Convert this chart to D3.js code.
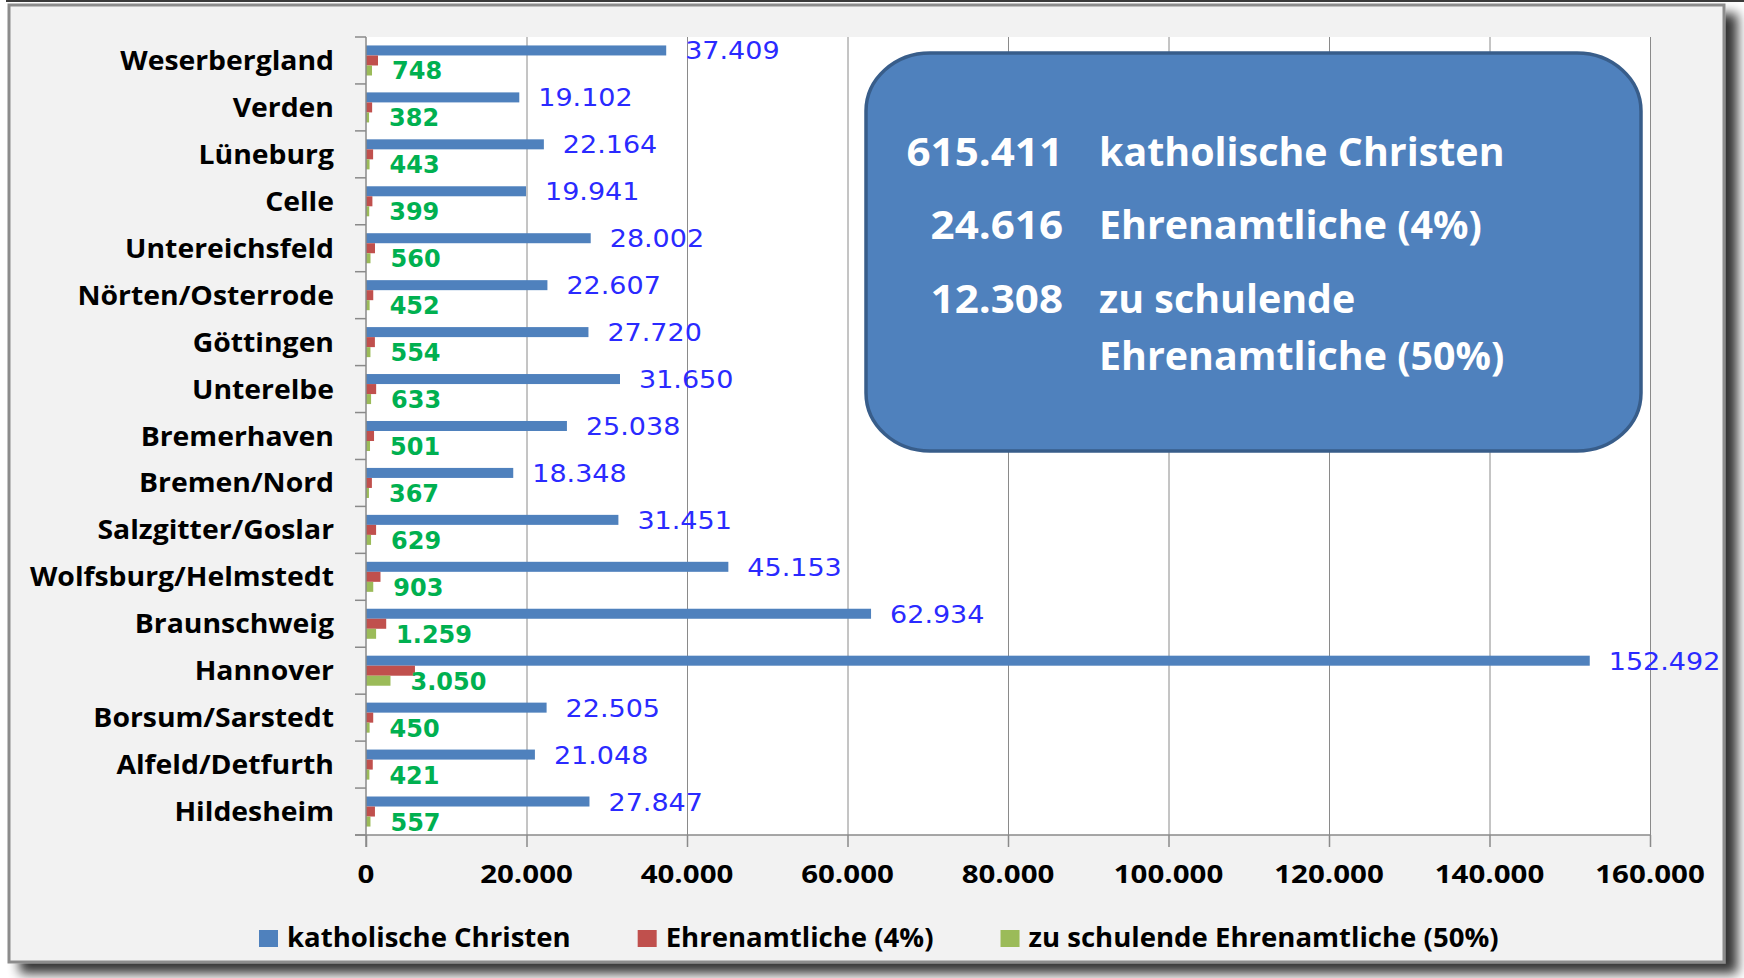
<!DOCTYPE html>
<html>
<head>
<meta charset="utf-8">
<script src="https://cdn.jsdelivr.net/npm/d3@7"></script>
<style>
  html, body { margin: 0; padding: 0; background: #fff; }
  svg { display: block; }
</style>
</head>
<body>
<svg id="chart" width="1744" height="978"></svg>
<script>
// Dekanate, top to bottom
const categories = [
  "Weserbergland", "Verden", "Lüneburg", "Celle", "Untereichsfeld",
  "Nörten/Osterrode", "Göttingen", "Unterelbe", "Bremerhaven", "Bremen/Nord",
  "Salzgitter/Goslar", "Wolfsburg/Helmstedt", "Braunschweig", "Hannover",
  "Borsum/Sarstedt", "Alfeld/Detfurth", "Hildesheim"
];
// katholische Christen
const christians = [
  37409, 19102, 22164, 19941, 28002, 22607, 27720, 31650, 25038, 18348,
  31451, 45153, 62934, 152492, 22505, 21048, 27847
];
// Ehrenamtliche (4%)
const volunteers = [
  1496, 764, 886, 798, 1120, 904, 1108, 1266, 1002, 734,
  1258, 1806, 2518, 6100, 900, 842, 1114
];
// zu schulende Ehrenamtliche (50%)
const trainees = [
  748, 382, 443, 399, 560, 452, 554, 633, 501, 367,
  629, 903, 1259, 3050, 450, 421, 557
];
const seriesNames = ["katholische Christen", "Ehrenamtliche (4%)", "zu schulende Ehrenamtliche (50%)"];
const seriesColors = ["#4f81bd", "#c0504d", "#9bbb59"];
const xTicks = [0, 20000, 40000, 60000, 80000, 100000, 120000, 140000, 160000];
const summaryLabels = [["katholische Christen"], ["Ehrenamtliche (4%)"], ["zu schulende", "Ehrenamtliche (50%)"]];

const series = [christians, volunteers, trainees];

const de = d3.formatLocale({ decimal: ",", thousands: ".", grouping: [3], currency: ["", "€"] });
const fmt = de.format(",d");

const plot = { left: 366, right: 1650, top: 37, bottom: 835 };

const svg = d3.select("#chart");

// frame shadow
const defs = svg.append("defs");
const f = defs.append("filter").attr("id", "shadow")
  .attr("x", "-2%").attr("y", "-2%").attr("width", "106%").attr("height", "108%");
f.append("feGaussianBlur").attr("in", "SourceAlpha").attr("stdDeviation", 6).attr("result", "b");
f.append("feOffset").attr("in", "b").attr("dx", 12).attr("dy", 10).attr("result", "o");
f.append("feComponentTransfer").attr("in", "o").attr("result", "s")
  .append("feFuncA").attr("type", "linear").attr("slope", 0.8);
const m = f.append("feMerge");
m.append("feMergeNode").attr("in", "s");
m.append("feMergeNode").attr("in", "SourceGraphic");

svg.append("line").attr("x1", 6).attr("x2", 1744).attr("y1", 1).attr("y2", 1)
  .attr("stroke", "#3a3a3a").attr("stroke-width", 2);

svg.append("rect")
  .attr("x", 9).attr("y", 5).attr("width", 1715).attr("height", 957)
  .attr("fill", "#f2f2f2").attr("stroke", "#8c8c8c").attr("stroke-width", 3)
  .attr("filter", "url(#shadow)");

// scales
const x = d3.scaleLinear().domain([0, 160000]).range([plot.left, plot.right]);
const y = d3.scaleBand().domain(categories).range([plot.top, plot.bottom]);
const bw = y.bandwidth();
const groupH = bw * 0.64;
const inner = d3.scaleBand().domain(d3.range(series.length))
  .range([(bw - groupH) / 2, (bw + groupH) / 2]);

// plot area
svg.append("rect")
  .attr("x", plot.left).attr("y", plot.top)
  .attr("width", plot.right - plot.left).attr("height", plot.bottom - plot.top)
  .attr("fill", "#fff");

// vertical gridlines
svg.append("g").selectAll("line").data(xTicks.slice(1)).join("line")
  .attr("x1", d => x(d) + 0.5).attr("x2", d => x(d) + 0.5)
  .attr("y1", plot.top).attr("y2", plot.bottom)
  .attr("stroke", "#8a8a8a").attr("stroke-width", 1);

// bars
const rows = categories.map((c, i) => ({ cat: c, values: series.map(s => s[i]) }));
const rowG = svg.append("g").selectAll("g").data(rows).join("g")
  .attr("transform", d => `translate(0,${y(d.cat)})`);
rowG.selectAll("rect").data(d => d.values.map((v, k) => ({ v, k }))).join("rect")
  .attr("x", x(0))
  .attr("y", d => inner(d.k))
  .attr("width", d => x(d.v) - x(0))
  .attr("height", inner.bandwidth())
  .attr("fill", d => seriesColors[d.k]);

// text helper: horizontally stretched text anchored at (px, py)
function label(sel, txt, px, py, opts) {
  return sel.append("text")
    .attr("transform", `translate(${px},${py}) scale(${opts.sx || 1},1)`)
    .attr("text-anchor", opts.anchor || "start")
    .attr("font-family", opts.family)
    .attr("font-size", opts.size)
    .attr("font-weight", opts.weight || 400)
    .attr("fill", opts.fill || "#000")
    .text(txt);
}

// value labels: blue for christians, green for trainees
const labelsG = svg.append("g");
rows.forEach(r => {
  const y0 = y(r.cat);
  label(labelsG, fmt(r.values[0]), x(r.values[0]) + 19,
    y0 + inner(0) + inner.bandwidth() / 2 + 9,
    { family: "DejaVu Sans", size: 25, weight: 400, fill: "#2a2aff", sx: 1.08 });
  label(labelsG, fmt(r.values[2]), x(r.values[2]) + 20,
    y0 + inner(2) + inner.bandwidth() / 2 + 9,
    { family: "DejaVu Sans", size: 24, weight: 700, fill: "#00b050", sx: 1.0 });
});

// axes
const axisCol = "#8a8a8a";
const axG = svg.append("g").attr("stroke", axisCol).attr("stroke-width", 1.5);
axG.append("line").attr("x1", plot.left).attr("x2", plot.left)
  .attr("y1", plot.top).attr("y2", plot.bottom + 12);
axG.append("line").attr("x1", plot.left - 11).attr("x2", plot.right)
  .attr("y1", plot.bottom).attr("y2", plot.bottom);
axG.selectAll(".yt").data(d3.range(categories.length + 1)).join("line")
  .attr("x1", plot.left - 11).attr("x2", plot.left)
  .attr("y1", i => plot.top + i * y.step()).attr("y2", i => plot.top + i * y.step());
axG.selectAll(".xt").data(xTicks).join("line")
  .attr("x1", d => x(d) + 0.5).attr("x2", d => x(d) + 0.5)
  .attr("y1", plot.bottom).attr("y2", plot.bottom + 12);

// category labels
const catG = svg.append("g");
categories.forEach(c => {
  label(catG, c, 334, y(c) + bw / 2 + 9.5,
    { family: "Open Sans", size: 27, weight: 700, anchor: "end", sx: 1.05 });
});

// tick labels
const tickG = svg.append("g");
xTicks.forEach(t => {
  label(tickG, fmt(t), x(t), 883,
    { family: "Open Sans", size: 25, weight: 700, anchor: "middle", sx: 1.18 });
});

// legend
const legG = svg.append("g");
let lx = 259;
seriesNames.forEach((n, k) => {
  legG.append("rect").attr("x", lx).attr("y", 930).attr("width", 19).attr("height", 17)
    .attr("fill", seriesColors[k]);
  const t = label(legG, n, lx + 28, 947,
    { family: "Open Sans", size: 26, weight: 700, sx: 1.06 });
  lx += 28 + t.node().getComputedTextLength() * 1.06 + 67;
});

// summary box
const box = svg.append("g");
box.append("rect")
  .attr("x", 866).attr("y", 53).attr("width", 775).attr("height", 398)
  .attr("rx", 64).attr("ry", 58)
  .attr("fill", "#4f81bd").attr("stroke", "#385d8a").attr("stroke-width", 3.5);
const totals = series.map(s => d3.sum(s));
const lineY = [166, 239, 313];
totals.forEach((tot, k) => {
  label(box, fmt(tot), 1063, lineY[k],
    { family: "Open Sans", size: 39, weight: 700, anchor: "end", fill: "#fff", sx: 1.08 });
  summaryLabels[k].forEach((s, j) => {
    label(box, s, 1099, lineY[k] + j * 57,
      { family: "Open Sans", size: 39, weight: 700, fill: "#fff", sx: 1.01 });
  });
});
</script>
</body>
</html>
